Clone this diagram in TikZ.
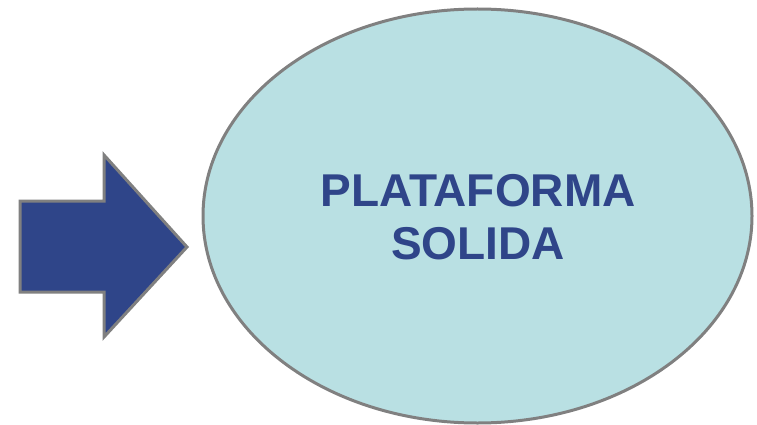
\documentclass[tikz,border=0pt]{standalone}
\usepackage{fontspec}
\setmainfont{Liberation Sans}
\usetikzlibrary{shapes.geometric}
\definecolor{ellfill}{HTML}{B9E0E3}
\definecolor{edgegray}{HTML}{808080}
\definecolor{navy}{HTML}{2F4589}
\tikzset{
  outline/.style={draw=edgegray, line width=3pt, line join=miter},
  labeltext/.style={text=navy, font=\fontsize{46}{53}\selectfont\bfseries, align=center}
}
\begin{document}
\begin{tikzpicture}[x=1pt,y=-1pt]
\useasboundingbox (0,0) rectangle (757,425);
\node[ellipse, outline, fill=ellfill, minimum width=549pt, minimum height=414pt, inner sep=0pt] (plat) at (477.5,216) {};
\node[labeltext] (label) at (478,217) {PLATAFORMA\\SOLIDA};
\path[outline, fill=navy] (20,201) -- (104,201) -- (104,155) -- (187,247) -- (104,337) -- (104,292) -- (20,292) -- cycle;
\coordinate (tip) at (187,247);
\end{tikzpicture}
\end{document}
